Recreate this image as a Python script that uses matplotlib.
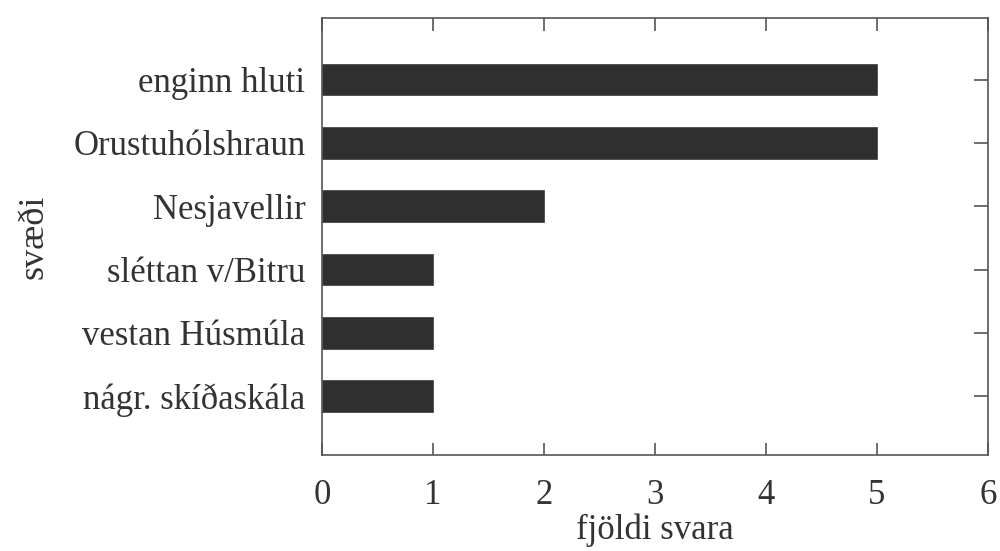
import matplotlib.pyplot as plt

plt.rcParams['font.family'] = ['Liberation Serif', 'DejaVu Serif']

categories = ["nágr. skíðaskála", "vestan Húsmúla", "sléttan v/Bitru",
              "Nesjavellir", "Orustuhólshraun", "enginn hluti"]
counts = [1, 1, 1, 2, 5, 5]
xticks = [0, 1, 2, 3, 4, 5, 6]

fig = plt.figure(figsize=(10, 5.51), dpi=100)
ax = fig.add_axes([0.322, 0.174, 0.666, 0.793])

ypos = list(range(len(categories)))
ax.barh(ypos, counts, height=0.5, color="#2f2f2f", edgecolor="#3a3a3a", linewidth=0.5)

ax.set_xlim(0, 6)
ax.set_ylim(-0.93, 5.97)
ax.set_xticks(xticks)
ax.set_yticks(ypos)
ax.set_yticklabels(categories)

for s in ax.spines.values():
    s.set_color("#555555")
    s.set_linewidth(1.2)

ax.tick_params(axis="x", direction="in", length=9, width=1.2, color="#555555",
               top=True, bottom=True, labelsize=25, pad=17, labelcolor="#333333")
ax.tick_params(axis="y", direction="in", length=10, width=1.2, color="#555555",
               left=False, right=True, labelleft=True, labelsize=25, pad=12,
               labelcolor="#333333")

ax.set_xlabel("fjöldi svara", fontsize=25, color="#333333", labelpad=1)
ax.set_ylabel("svæði", fontsize=26, color="#333333", labelpad=16)

fig.savefig("out.png", dpi=100)
